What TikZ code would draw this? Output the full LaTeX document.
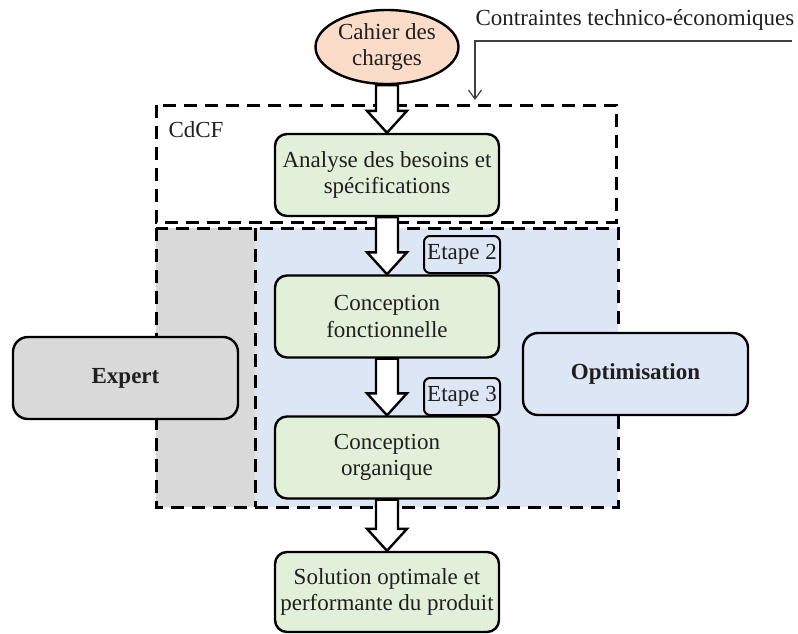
\documentclass[tikz,border=0pt]{standalone}
\usepackage{fontspec}
\setmainfont{Liberation Serif}
\usetikzlibrary{positioning,arrows.meta,calc,shapes.geometric}
\definecolor{peach}{HTML}{FBDCC8}
\definecolor{palegreen}{HTML}{E2F0D9}
\definecolor{paleblue}{HTML}{DCE6F4}
\definecolor{palegrey}{HTML}{D9D9D9}
\newcommand{\fatarrow}[2]{%
  \draw[blockarrow] ($(#1.south)+(-11,0)$) -- ($(#2.north)+(-11,-22)$) -- ($(#2.north)+(-20,-22)$)
    -- (#2.north) -- ($(#2.north)+(20,-22)$) -- ($(#2.north)+(11,-22)$) -- ($(#1.south)+(11,0)$) -- cycle;}

\begin{document}
\begin{tikzpicture}[x=1pt,y=-1pt,
  font=\fontsize{23}{26.5}\selectfont, text=black!88,
  stepbox/.style={draw,line width=2.4pt,rounded corners=12pt,fill=palegreen,minimum width=224pt,minimum height=82pt,align=center,inner sep=2pt},
  tagbox/.style={draw,line width=2pt,rounded corners=6pt,fill=paleblue,minimum width=76pt,minimum height=37pt,inner sep=1pt},
  sidebox/.style={draw,line width=2.4pt,rounded corners=15pt,minimum width=225pt,minimum height=82pt,font=\fontsize{23}{26.5}\selectfont\bfseries},
  frame/.style={line width=3pt,dash pattern=on 13pt off 8pt},
  blockarrow/.style={draw,fill=white,line width=2.4pt,line join=miter}
]
\useasboundingbox (0,0) rectangle (798,633);

% zones
\fill[palegrey] (156,228) rectangle (255,507);
\fill[paleblue] (255,228) rectangle (618,507);
\draw[frame] (156,105) rectangle (616,222);
\draw[frame] (156,228) rectangle (618,507);
\draw[frame] (255,228) -- (255,507);

% blocs
\node[draw,ellipse,line width=2.4pt,fill=peach,minimum width=143pt,minimum height=74pt,align=center,inner sep=0pt] (cdc) at (387,47) {Cahier des\\charges};
\node[anchor=west] (cdcf) at (165,130) {CdCF};
\node[stepbox] (ana) at (387,175) {Analyse des besoins et\\spécifications};
\node[stepbox] (cf) at (387,316.5) {Conception\\fonctionnelle};
\node[stepbox] (co) at (387,457.5) {Conception\\organique};
\node[stepbox,minimum height=80pt] (sol) at (387,592) {Solution optimale et\\performante du produit};
\node[tagbox] (et2) at (462,254.5) {Etape 2};
\node[tagbox] (et3) at (462,396.5) {Etape 3};
\node[sidebox,fill=palegrey] (expert) at (125.5,378) {Expert};
\node[sidebox,fill=paleblue] (optim) at (635.5,374) {Optimisation};

% contraintes
\node (ctr) at (635,20) {Contraintes technico-économiques};
\coordinate (ctrin) at (792,41);
\coordinate (ctrout) at (475,100);
\draw[line width=1.2pt,draw=black!75,-{Straight Barb[length=9pt,width=13pt]}] (ctrin) -| (ctrout);

% fleches
\fatarrow{cdc}{ana}
\fatarrow{ana}{cf}
\fatarrow{cf}{co}
\fatarrow{co}{sol}
\end{tikzpicture}
\end{document}
